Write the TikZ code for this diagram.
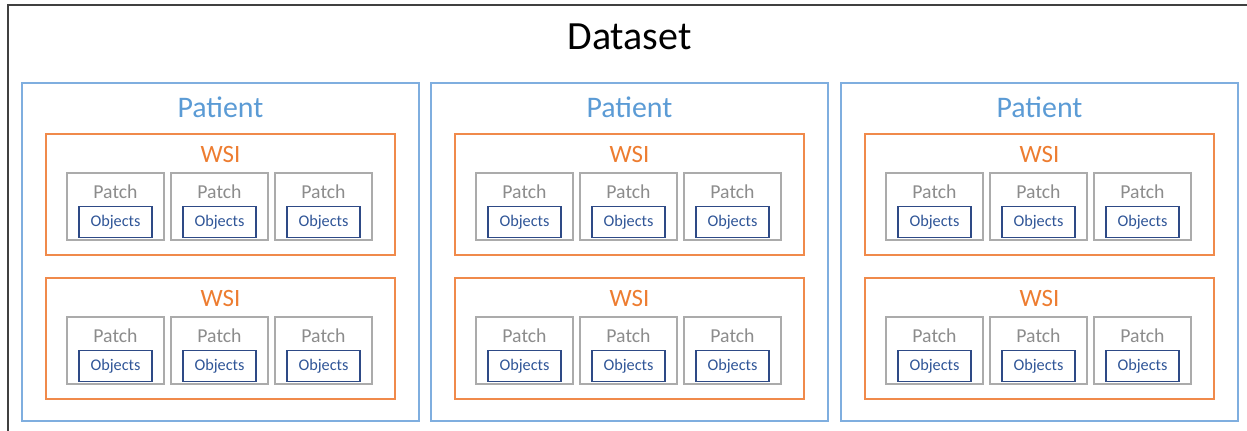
\documentclass[tikz,border=0pt]{standalone}
\usepackage{fontspec}
\setmainfont{Carlito}
\usetikzlibrary{positioning}
\definecolor{dsline}{HTML}{404040}
\definecolor{patline}{HTML}{7FAEDF}
\definecolor{pattext}{HTML}{5B9BD5}
\definecolor{wsiline}{HTML}{F08A4B}
\definecolor{wsitext}{HTML}{ED7D31}
\definecolor{patchline}{HTML}{ABABAB}
\definecolor{patchtext}{HTML}{8C8C8C}
\definecolor{objline}{HTML}{2E4A86}
\definecolor{objtext}{HTML}{2F5597}

\begin{document}
\begin{tikzpicture}[x=0.75pt,y=-0.75pt,
    every node/.style={inner sep=0pt,outer sep=0pt},
    datasetbox/.style={draw=dsline,line width=1.5pt,anchor=north west,
      minimum width={1300*0.75pt},minimum height={500*0.75pt}},
    patientbox/.style={draw=patline,line width=1pt,anchor=north west,
      minimum width={397*0.75pt},minimum height={338*0.75pt}},
    wsibox/.style={draw=wsiline,line width=1pt,anchor=north west,
      minimum width={349*0.75pt},minimum height={121*0.75pt}},
    patchbox/.style={draw=patchline,line width=0.9pt,anchor=north west,
      minimum width={97*0.75pt},minimum height={67*0.75pt}},
    objbox/.style={draw=objline,line width=1pt,text=objtext,
      minimum width={73*0.75pt},minimum height={31*0.75pt},
      font=\fontsize{12.2}{14}\selectfont},
    title/.style={font=\fontsize{30}{36}\selectfont},
    patientlabel/.style={text=pattext,font=\fontsize{22.4}{27}\selectfont},
    wsilabel/.style={text=wsitext,font=\fontsize{18.7}{22}\selectfont},
    patchlabel/.style={text=patchtext,font=\fontsize{14.8}{18}\selectfont},
  ]
  \useasboundingbox (0,0) rectangle (1247,431);
  \node[datasetbox] (dataset) at (8,5) {};
  \node[title] (datasetlabel) at (629.5,37) {Dataset};
  % patients, each with two WSIs of three patches
  \foreach \i/\px in {1/22,2/431,3/841} {
    \node[patientbox] (p\i) at (\px,83) {};
    \path (p\i.north) ++(0,24) node[patientlabel] (p\i label) {Patient};
    \foreach \j/\py in {1/134,2/278} {
      \node[wsibox] (p\i w\j) at (\px+24,\py) {};
      \path (p\i w\j.north) ++(0,20) node[wsilabel] (p\i w\j label) {WSI};
      \foreach \k in {0,1,2} {
        \node[patchbox] (p\i w\j c\k) at (\px+45+104*\k,\py+39) {};
        \path (p\i w\j c\k.north) ++(0,19) node[patchlabel] (p\i w\j c\k label) {Patch};
        \path (p\i w\j c\k.north) ++(0,49) node[objbox] (p\i w\j c\k obj) {Objects};
      }
    }
  }
\end{tikzpicture}
\end{document}
